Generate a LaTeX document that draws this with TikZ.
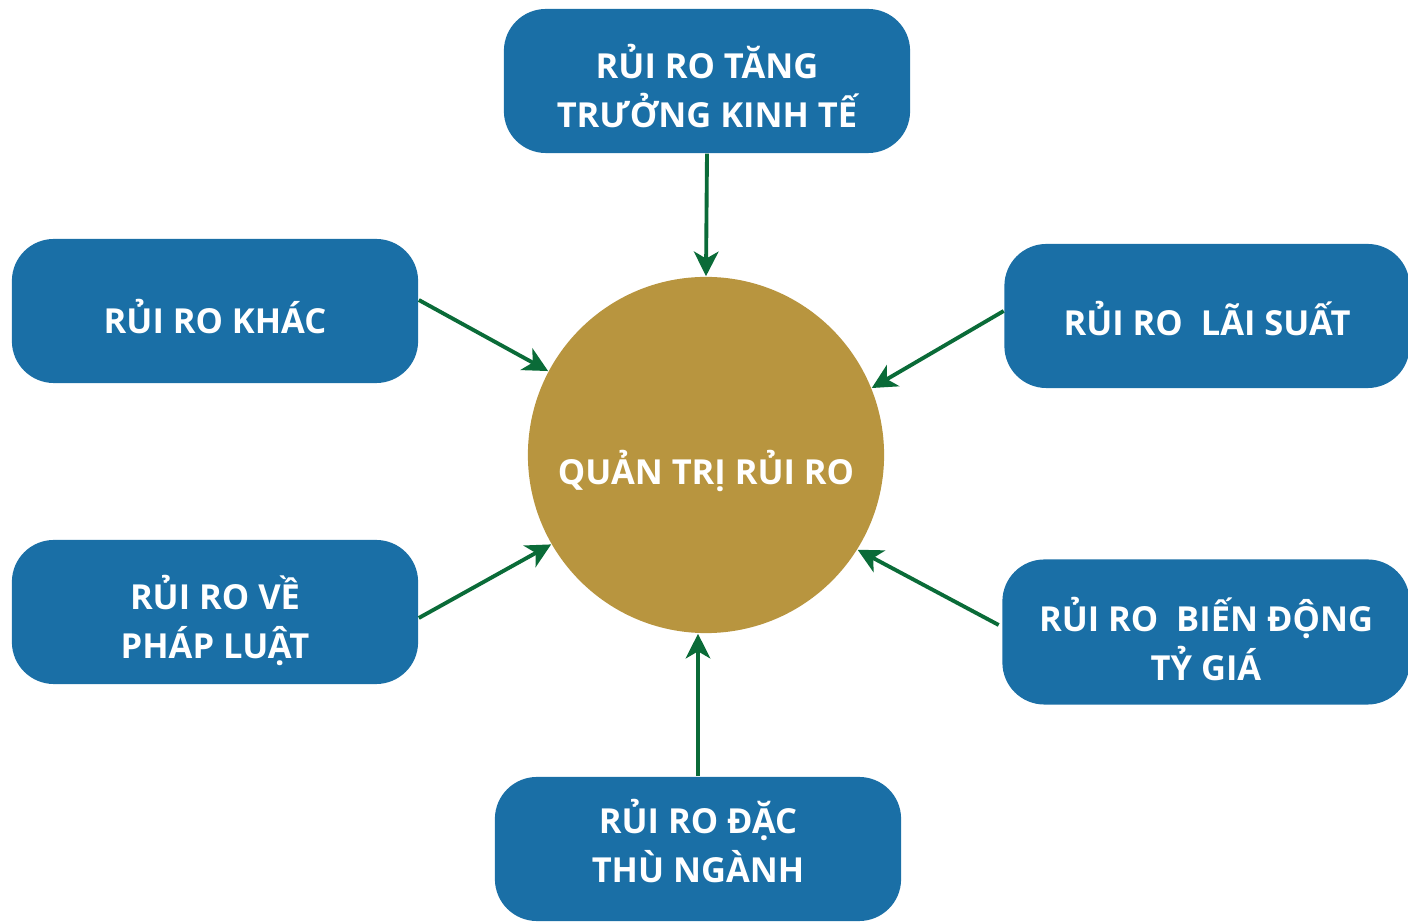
\documentclass[tikz,border=0pt]{standalone}
\usepackage{fontspec}
\setmainfont{Open Sans}
\usetikzlibrary{arrows.meta}
\definecolor{riskblue}{HTML}{1A6FA6}
\definecolor{riskgold}{HTML}{B8953F}
\definecolor{riskgreen}{HTML}{0A6B38}
\tikzset{
  riskbox/.style={fill=riskblue, rounded corners=0.42cm, minimum width=4.06cm,
    minimum height=1.44cm, text=white, align=center, text depth=0pt, text height=0.44cm,
    font=\fontsize{9.8}{13.8}\selectfont\bfseries},
  twolines/.style={text height=0.92cm},
  riskarrow/.style={draw=riskgreen, line width=1.1pt,
    -{Stealth[length=7pt,width=7pt,inset=2pt]}}
}

\begin{document}
\begin{tikzpicture}[x=0.01cm,y=-0.01cm]
		%%%%% START %%%%%
		\clip (0,0) rectangle (1408,922);
		
		\node[circle, fill=riskgold, minimum size=3.56cm, text=white, text depth=0pt, text height=0.58cm,
		  font=\fontsize{9.8}{13.8}\selectfont\bfseries] (qtrr) at (706,455) {QUẢN TRỊ RỦI RO};
		
		\node[riskbox, twolines] (tangtruong) at (707,81) {RỦI RO TĂNG\\TRƯỞNG KINH TẾ};
		\node[riskbox] (khac) at (215,311) {RỦI RO KHÁC};
		\node[riskbox, minimum width=4.05cm, text height=0.38cm] (laisuat) at (1207,316) {RỦI RO\ \ LÃI SUẤT};
		\node[riskbox, twolines] (phapluat) at (215,612) {RỦI RO VỀ\\PHÁP LUẬT};
		\node[riskbox, twolines, text height=0.97cm, minimum width=4.07cm, minimum height=1.45cm] (tygia) at (1206,632) {RỦI RO\ \ BIẾN ĐỘNG\\TỶ GIÁ};
		\node[riskbox, twolines, text height=0.66cm] (nganh) at (698,849) {RỦI RO ĐẶC\\THÙ NGÀNH};
		
		\draw[riskarrow] (tangtruong.south) -- (qtrr.north);
		\draw[riskarrow] ([yshift=0.11cm]khac.east) -- (qtrr.152.6);
		\draw[riskarrow] ([yshift=0.05cm]laisuat.west) -- (qtrr.22.8);
		\draw[riskarrow] ([yshift=-0.06cm]phapluat.east) -- (qtrr.210.3);
		\draw[riskarrow] ([xshift=-0.03cm,yshift=0.07cm]tygia.west) -- (qtrr.328.7);
		\draw[riskarrow] (nganh.north) -- (nganh.north |- qtrr.south);
		
		%%%%% END %%%%%
	\end{tikzpicture}
\end{document}
